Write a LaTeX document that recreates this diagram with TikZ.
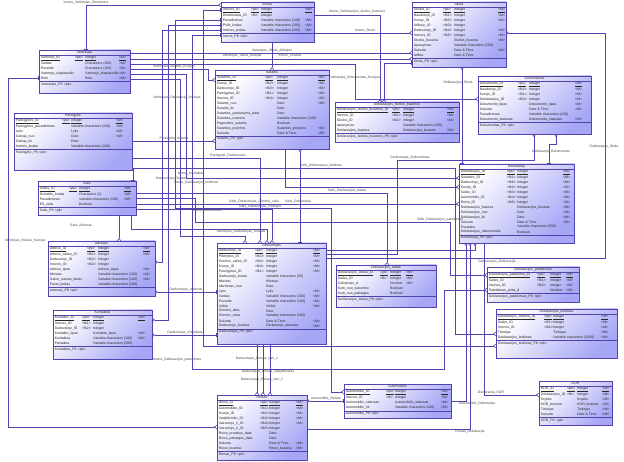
\documentclass[tikz,border=0pt]{standalone}
\usepackage{fontspec}
\setmainfont{Liberation Sans}
\usetikzlibrary{arrows.meta}
\definecolor{bc}{RGB}{84,66,176}
\definecolor{lav}{RGB}{166,166,246}
\definecolor{tc}{RGB}{40,40,40}
\newcount\nn
\newcommand\tb[9]{%
  \node[tbl,minimum width={#4pt-#2pt},minimum height={#5pt-#3pt}] (#1) at (#2,#3) {};
  \node[tt] (#1t) at ({(#2+#4)/2},{#3+2.7}) {#6};
  \draw[bd] (#2,#3+5.4) -- (#4,#3+5.4);
  \def\Xa{#2}\def\Xb{#4}\def\Kx{#7}\def\Tx{#8}\def\Mx{#9}%
  \pgfmathsetmacro\Yr{#3+8.6}}
\newcommand\rw[4]{%
  \global\advance\nn by 1
  \node[tx] (a\the\nn) at (\Xa+1.6,\Yr) {#1};
  \node[tx] (b\the\nn) at (\Kx,\Yr) {#2};
  \node[tx] (c\the\nn) at (\Tx,\Yr) {#3};
  \node[tx] (d\the\nn) at (\Mx,\Yr) {#4};
  \pgfmathsetmacro\Yr{\Yr+4.95}}
\newcommand\rwk[4]{\rw{\underline{#1}}{\underline{#2}}{\underline{#3}}{\underline{#4}}}
\newcommand\pkr[1]{%
  \draw[bd] (\Xa,\Yr-1.6) -- (\Xb,\Yr-1.6);
  \global\advance\nn by 1
  \node[tx] (p\the\nn) at (\Xa+1.6,\Yr+1.0) {#1};}
\newcommand\bx[3]{([xshift=#2pt,yshift=-#3pt]#1.north west)}
\catcode`\_=12
\begin{document}
\begin{tikzpicture}[x=1pt,y=-1pt,
  tbl/.style={draw=bc,line width=0.7pt,top color=white,bottom color=lav,shading angle=45,anchor=north west,inner sep=0pt,outer sep=0pt},
  bd/.style={draw=bc,line width=0.6pt},
  tx/.style={anchor=west,inner sep=0pt,font=\fontsize{3.5}{4}\selectfont,text=tc},
  tt/.style={inner sep=0pt,font=\fontsize{3.5}{4}\selectfont,text=tc},
  lb/.style={inner sep=0pt,font=\fontsize{3.4}{4}\selectfont,text=tc!85},
  rel/.style={draw=bc,line width=0.6pt},
  cf/.style={{Bar[width=3.4pt]}-{Straight Barb[reversed,length=2.2pt,width=3.6pt]}}]
\useasboundingbox[fill=white] (0,0) rectangle (624,462);

% ---------------- tables ----------------
\tb{vart}{39}{50}{130}{93}{Vartotojas}{75}{85}{119}
\rwk{Vartotojo_ID}{<pk>}{Integer}{<M>}
\rw{Vardas}{}{Characters (100)}{<M>}
\rw{Pavarde}{}{Characters (100)}{<M>}
\rw{Vartotojo_slaptazodis}{}{Vartotojo_slaptazodis}{<M>}
\rw{Role}{}{Role}{<M>}
\pkr{Vartotojas_PK  <pk>}

\tb{par}{14}{113}{132}{170}{Pareigybe}{62}{71}{116}
\rwk{Pareigybes_ID}{<pk>}{Integer}{<M>}
\rw{Pareigybes_pavadinimas}{}{Variable characters (100)}{<M>}
\rw{Lytis}{}{Lytis}{<M>}
\rw{Galioja_nuo}{}{Date}{<M>}
\rw{Galioja_iki}{}{Date}{}
\rw{Isorinis_kodas}{}{Variable characters (100)}{}
\pkr{Pareigybe_PK  <pk>}

\tb{imo}{221}{2}{314}{42}{Imone}{251}{261}{305}
\rwk{Imones_ID}{<pk>}{Integer}{<M>}
\rw{Direktoriaus_ID}{<fk>}{Integer}{}
\rw{Pavadinimas}{}{Variable characters (100)}{<M>}
\rw{PVM_kodas}{}{Variable characters (100)}{<M>}
\rw{Imones_kodas}{}{Variable characters (100)}{<M>}
\pkr{Imone_PK  <pk>}

\tb{sko}{412}{2}{506}{67}{Skola}{443}{454}{498}
\rwk{Skolos_ID}{<pk>}{Integer}{<M>}
\rw{Naudotojo_ID}{<fk1>}{Integer}{<M>}
\rw{Kurejo_ID}{<fk2>}{Integer}{<M>}
\rw{Atlikejo_ID}{<fk3>}{Integer}{}
\rw{Darbuotojo_ID}{<fk4>}{Integer}{<M>}
\rw{Imones_ID}{<fk5>}{Integer}{<M>}
\rw{Skolos_busena}{}{Skolos_busena}{<M>}
\rw{Aprasymas}{}{Variable characters (100)}{}
\rw{Sukurta}{}{Date \& Time}{<M>}
\rw{Atlikta}{}{Date \& Time}{}
\pkr{Skola_PK  <pk>}

\tb{dok}{478}{76}{591}{134}{Dokumentas}{518}{529}{575}
\rwk{Dokumento_ID}{<pk>}{Integer}{<M>}
\rw{Naudotojo_ID}{<fk2>}{Integer}{<M>}
\rw{Kurejo_ID}{<fk1>}{Integer}{<M>}
\rw{Deklaracijos_ID}{<fk3>}{Integer}{<M>}
\rw{Dokumento_tipas}{}{Dokumento_tipas}{<M>}
\rw{Sukurta}{}{Date \& Time}{<M>}
\rw{Pavadinimas}{}{Variable characters (100)}{}
\rw{Dokumento_statusas}{}{Dokumento_statusas}{<M>}
\pkr{Dokumentas_PK  <pk>}

\tb{sut}{215}{70}{329}{149}{Sutartis}{265}{277}{318}
\rwk{Sutarties_ID}{<pk>}{Integer}{<M>}
\rw{Kurejo_ID}{<fk2>}{Integer}{<M>}
\rw{Darbuotojo_ID}{<fk3>}{Integer}{<M>}
\rw{Pareigybes_ID}{<fk1>}{Integer}{<M>}
\rw{Imones_ID}{<fk4>}{Integer}{<M>}
\rw{Sutartis_nuo}{}{Date}{<M>}
\rw{Sutartis_iki}{}{Date}{}
\rw{Sutarties_pasirasymo_data}{}{Date}{}
\rw{Sutarties_numeris}{}{Variable characters (100)}{}
\rw{Pagrindine_sutartis}{}{Boolean}{}
\rw{Sutarties_pozymis}{}{Sutarties_pozymis}{<M>}
\rw{Sukurta}{}{Date \& Time}{<M>}
\pkr{Sutartis_PK  <pk>}

\tb{dsb}{335}{102}{459}{142}{Deklaracijos_skolos_busenos}{392}{403}{447}
\rwk{Deklaracijos_skolos_busenos_ID}{<pk>}{Integer}{<M>}
\rw{Imones_ID}{<fk1>}{Integer}{<M>}
\rw{Skolos_ID}{<fk2>}{Integer}{<M>}
\rw{Aprasymas}{}{Variable characters (100)}{}
\rw{Deklaracijos_busena}{}{Deklaracijos_busena}{<M>}
\pkr{Deklaracijos_skolos_busenos_PK  <pk>}

\tb{sal}{38}{181}{136}{215}{Salis}{69}{79}{124}
\rwk{Salies_ID}{<pk>}{Integer}{<M>}
\rw{Dviraidis_kodas}{}{Characters (2)}{<M>}
\rw{Pavadinimas}{}{Variable characters (100)}{<M>}
\rw{ES_salis}{}{Boolean}{}
\pkr{Salis_PK  <pk>}

\tb{adr}{48}{241}{155}{296}{Adresas}{87}{98}{143}
\rwk{Adreso_ID}{<pk>}{Integer}{<M>}
\rw{Adreso_salies_ID}{<fk1>}{Integer}{<M>}
\rw{Darbuotojo_ID}{<fk2>}{Integer}{}
\rw{Imones_ID}{<fk3>}{Integer}{}
\rw{Adreso_tipas}{}{Adreso_tipas}{<M>}
\rw{Miestas}{}{Variable characters (100)}{<M>}
\rw{Gatve_namas_butas}{}{Variable characters (100)}{<M>}
\rw{Pasto_kodas}{}{Variable characters (100)}{}
\pkr{Adresas_PK  <pk>}

\tb{kon}{53}{310}{152}{359}{Kontaktas}{82}{93}{138}
\rwk{Kontakto_ID}{<pk>}{Integer}{<M>}
\rw{Imones_ID}{<fk1>}{Integer}{}
\rw{Darbuotojo_ID}{<fk2>}{Integer}{}
\rw{Kontakto_tipas}{}{Kontakto_tipas}{<M>}
\rw{Kontaktas}{}{Variable characters (100)}{<M>}
\rw{Pastabos}{}{Variable characters (500)}{}
\pkr{Kontaktas_PK  <pk>}

\tb{dar}{217}{243}{326}{344}{Darbuotojas}{255}{266}{313}
\rwk{Darbuotojo_ID}{<pk>}{Integer}{<M>}
\rw{Pilietybes_ID}{<fk3>}{Integer}{<M>}
\rw{Gimimo_salies_ID}{<fk2>}{Integer}{<M>}
\rw{Kurejo_ID}{<fk4>}{Integer}{<M>}
\rw{Pareigybes_ID}{<fk1>}{Integer}{<M>}
\rw{Darbuotojo_kodas}{}{Variable characters (20)}{}
\rw{Miestas}{}{Miestas}{}
\rw{Idarbintas_nuo}{}{Date}{}
\rw{Lytis}{}{Lytis}{<M>}
\rw{Vardas}{}{Variable characters (100)}{<M>}
\rw{Pavarde}{}{Variable characters (100)}{<M>}
\rw{Veikla}{}{Veikla}{<M>}
\rw{Gimimo_data}{}{Date}{}
\rw{Gimimo_vieta}{}{Variable characters (100)}{}
\rw{Sukurta}{}{Date \& Time}{<M>}
\rw{Darbuotojo_busena}{}{Darbuotojo_statusas}{<M>}
\pkr{Darbuotojas_PK  <pk>}

\tb{dek}{459}{164}{574}{243}{Deklaracija}{507}{517}{563}
\rwk{Deklaracijos_ID}{<pk>}{Integer}{<M>}
\rw{Sutarties_ID}{<fk1>}{Integer}{<M>}
\rw{Darbuotojo_ID}{<fk6>}{Integer}{<M>}
\rw{Kurejo_ID}{<fk2>}{Integer}{<M>}
\rw{Salies_ID}{<fk3>}{Integer}{<M>}
\rw{Automobilio_ID}{<fk4>}{Integer}{<M>}
\rw{Reiso_ID}{<fk5>}{Integer}{<M>}
\rw{Deklaracijos_busena}{}{Deklaracijos_busena}{<M>}
\rw{Deklaracijos_nuo}{}{Date}{<M>}
\rw{Deklaracijos_iki}{}{Date}{<M>}
\rw{Sukurta}{}{Date \& Time}{<M>}
\rw{Pastabos}{}{Variable characters (500)}{}
\rw{Deklaracijos_dokumentas}{}{Boolean}{}
\pkr{Deklaracija_PK  <pk>}

\tb{dla}{336}{265}{436}{307}{Deklaracijos_laikas}{380}{390}{406}
\rwk{Deklaracijos_laikas_ID}{<pk>}{Integer}{<M>}
\rw{Salies_ID}{<fk>}{Integer}{<M>}
\rw{Galiojimas_d}{}{Number}{<M>}
\rw{Kurti_nuo_sukurimo}{}{Boolean}{}
\rw{Kurti_nuo_pabaigos}{}{Boolean}{}
\pkr{Deklaracijos_laikas_PK  <pk>}

\tb{dpa}{487}{267}{579}{302}{Deklaracijos_pateikimas}{537}{550}{566}
\rwk{Deklaracijos_pateikimo_ID}{<pk>}{Integer}{<M>}
\rw{Salies_ID}{<fk1>}{Integer}{<M>}
\rw{Imones_ID}{<fk2>}{Integer}{<M>}
\rw{Pateikimas_pries_d}{}{Number}{<M>}
\pkr{Deklaracijos_pateikimas_PK  <pk>}

\tb{dle}{496}{309}{617}{358}{Deklaracijos_leidimas}{544}{553}{601}
\rwk{Deklaracijos_leidimo_ID}{<pk>}{Integer}{<M>}
\rw{Salies_ID}{<fk1>}{Integer}{<M>}
\rw{Imones_ID}{<fk2>}{Integer}{<M>}
\rw{Tiekejas}{}{Tiekejas}{<M>}
\rw{Deklaracijos_leidimas}{}{Variable characters (1000)}{<M>}
\pkr{Deklaracijos_leidimas_PK  <pk>}

\tb{kor}{539}{381}{612}{425}{KOR}{567}{577}{602}
\rwk{KOR_ID}{<pk>}{Integer}{<M>}
\rw{Deklaracijos_ID}{<fk>}{Integer}{<M>}
\rw{Kryptis}{}{Kryptis}{<M>}
\rw{KOR_busena}{}{KOR_busena}{<M>}
\rw{Tiekejas}{}{Tiekejas}{<M>}
\rw{Sukurta}{}{Date \& Time}{<M>}
\pkr{KOR_PK  <pk>}

\tb{rei}{217}{395}{307}{460}{Reisas}{260}{269}{296}
\rwk{Reiso_ID}{<pk>}{Integer}{<M>}
\rw{Automobilio_ID}{<fk1>}{Integer}{<M>}
\rw{Kurejo_ID}{<fk2>}{Integer}{<M>}
\rw{Vadybininko_ID}{<fk3>}{Integer}{<M>}
\rw{Vairuotojo_1_ID}{<fk4>}{Integer}{<M>}
\rw{Vairuotojo_2_ID}{<fk5>}{Integer}{}
\rw{Reiso_pradzios_data}{}{Date}{}
\rw{Reiso_pabaigos_data}{}{Date}{}
\rw{Sukurta}{}{Date \& Time}{<M>}
\rw{Reiso_busena}{}{Reiso_busena}{<M>}
\pkr{Reisas_PK  <pk>}

\tb{aut}{344}{384}{451}{418}{Automobilis}{386}{395}{441}
\rwk{Automobilio_ID}{<pk>}{Integer}{<M>}
\rw{Imones_ID}{<fk>}{Integer}{<M>}
\rw{Automobilio_statusas}{}{Automobilio_statusas}{<M>}
\rw{Automobilio_Nr}{}{Variable characters (100)}{<M>}
\pkr{Automobilis_PK  <pk>}

% ---------------- connectors ----------------
\draw[rel,cf] \bx{vart}{47}{0} |- \bx{imo}{0}{3};
\draw[rel,cf] \bx{imo}{93}{13} -| \bx{dsb}{45}{0};
\draw[rel,cf] \bx{imo}{93}{31} -- \bx{sko}{0}{31};
\draw[rel,cf] \bx{vart}{91}{3} -- \bx{sko}{0}{51};
\draw[rel,cf] \bx{vart}{91}{9} -- \bx{sko}{0}{57};
\draw[rel,cf] \bx{imo}{51}{40} -- \bx{sut}{57}{0};
\draw[rel,cf] \bx{vart}{91}{14} -- ++(225,0) |- \bx{dok}{0}{23};
\draw[rel,cf] \bx{vart}{91}{19} -- ++(78,0) |- \bx{sut}{0}{10};
\draw[rel,cf] \bx{sko}{0}{61} -| \bx{dsb}{49}{0};
\draw[rel,cf] \bx{dek}{3}{0} -- \bx{sko}{50}{65};
\draw[rel,cf] \bx{dar}{109}{15} -- ++(279,0) |- \bx{sko}{94}{31};
\draw[rel,cf] \bx{dek}{90}{0} -- ++(0,-20) -| \bx{dok}{78}{58};
\draw[rel,cf] \bx{dar}{109}{11} -- ++(71,0) -- ++(0,-94) -| \bx{dok}{56}{58};
\draw[rel,cf] \bx{par}{118}{28} -- \bx{sut}{0}{71};
\draw[rel,cf] \bx{par}{118}{45} -| \bx{dar}{43}{0};
\draw[rel,cf] \bx{vart}{91}{24} -- ++(56,0) |- \bx{dek}{0}{14};
\draw[rel,cf] \bx{vart}{91}{29} -- ++(50,0) -- ++(0,157) -| \bx{dar}{28}{0};
\draw[rel,cf] \bx{vart}{0}{28} -- ++(-31,0) |- \bx{rei}{0}{32};
\draw[rel,cf] \bx{sal}{81}{34} -- \bx{adr}{71}{0};
\draw[rel,cf] \bx{sal}{98}{28} -| \bx{dar}{55}{0};
\draw[rel,cf] \bx{sal}{93}{34} -- ++(0,14) -| \bx{dar}{50}{0};
\draw[rel,cf] \bx{sal}{98}{23} -- \bx{dek}{0}{40};
\draw[rel,cf] \bx{sal}{98}{12} -| \bx{dla}{51}{0};
\draw[rel,cf] \bx{sal}{98}{17} -- ++(59,0) -- ++(0,24) -- ++(255,0) |- \bx{dpa}{0}{8};
\draw[rel,cf] \bx{sal}{95}{0} -- ++(0,-13) -- ++(322,0) |- \bx{dle}{0}{25};
\draw[rel,cf] \bx{imo}{0}{28} -- ++(-59,0) |- \bx{adr}{107}{21};
\draw[rel,cf] \bx{imo}{0}{23} -- ++(-53,0) |- \bx{kon}{99}{10};
\draw[rel,cf] \bx{imo}{0}{18} -- ++(-46,0) -- ++(0,188) -- ++(156,0) |- \bx{aut}{0}{8};
\draw[rel,cf] \bx{imo}{0}{33} -- ++(-29,0) -- ++(0,334) -- ++(252,0) |- \bx{dpa}{0}{23};
\draw[rel,cf] \bx{imo}{0}{8} -- ++(-18,0) |- \bx{dle}{0}{37};
\draw[rel,cf] \bx{dar}{0}{49} -- \bx{adr}{107}{51};
\draw[rel,cf] \bx{dar}{0}{92} -- \bx{kon}{99}{25};
\draw[rel,cf] \bx{aut}{107}{17} -| \bx{dek}{7}{79};
\draw[rel,cf] \bx{dek}{25}{79} |- \bx{kor}{0}{14};
\draw[rel,cf] \bx{rei}{90}{34} -| \bx{dek}{11}{79};
\draw[rel,cf] \bx{aut}{0}{17} -- \bx{rei}{90}{6};
\draw[rel,cf] \bx{dar}{40}{101} -- \bx{rei}{40}{0};
\draw[rel,cf] \bx{dar}{46}{101} -- \bx{rei}{46}{0};
\draw[rel,cf] \bx{dar}{53}{101} -- \bx{rei}{53}{0};
\draw[rel,cf] \bx{dar}{109}{7} -| \bx{dek}{16}{79};
\draw[rel,cf] \bx{sut}{70}{79} |- \bx{dek}{0}{23};
\draw[rel,cf] \bx{dar}{83}{0} -- \bx{sut}{85}{79};

% ---------------- labels ----------------
\node[lb] (l1) at (86,2.3) {Imone_Vartotojas_Direktorius};
\node[lb] (l2) at (357,12) {Imone_Deklaracijos_skolos_busenos};
\node[lb] (l3) at (365,30.5) {Imone_Skola};
\node[lb] (l4) at (272,50.3) {Vartotojas_Skola_Atlikejas};
\node[lb] (l5) at (242,56) {Vartotojas_Skola_Kurejas};
\node[lb] (l6) at (290,56) {Imone_Sutartis};
\node[lb] (l7) at (174,66.5) {Vartotojas_Sutartis_Kurejas};
\node[lb] (l8) at (355,78) {Vartotojas_Dokumentas_Kurejas};
\node[lb] (l9) at (458,83) {Deklaracijos_Skola};
\node[lb] (l10) at (177,97.5) {Vartotojas_Deklaracija_Kurejas};
\node[lb] (l11) at (174,138.5) {Pareigybe_Sutartis};
\node[lb] (l12) at (228,155.5) {Pareigybe_Darbuotojas};
\node[lb] (l13) at (410,157.5) {Darbuotojas_Dokumentas};
\node[lb] (l14) at (551,152) {Deklaracija_Dokumentas};
\node[lb] (l15) at (604,147) {Darbuotojas_Skola};
\node[lb] (l16) at (321,165.5) {Salis_Deklaracijos_leidimas};
\node[lb] (l17) at (191,174) {Imone_Kontaktas};
\node[lb] (l18) at (172,179) {Darbuotojas_Sutartis};
\node[lb] (l19) at (196,182.5) {Imone_Deklaracijos_leidimas};
\node[lb] (l20) at (347,190.5) {Salis_Deklaracijos_laikas};
\node[lb] (l21) at (254,201.5) {Salis_Darbuotojas_Gimimo_salis};
\node[lb] (l22) at (298,201.5) {Salis_Deklaracija};
\node[lb] (l23) at (260,206.5) {Salis_Darbuotojas_Pilietybe};
\node[lb] (l24) at (207,210.5) {Imone_Automobilis};
\node[lb] (l25) at (440,219.5) {Salis_Deklaracijos_pateikimas};
\node[lb] (l26) at (241,232) {Vartotojas_Darbuotojas_Kurejas};
\node[lb] (l27) at (81,226) {Salis_Adresas};
\node[lb] (l28) at (186,289.5) {Darbuotojas_Adresas};
\node[lb] (l29) at (185,332.5) {Darbuotojas_Kontaktas};
\node[lb] (l30) at (177,360) {Imone_Deklaracijos_pateikimas};
\node[lb] (l31) at (257,359) {Darbuotojas_Reisas_Vair_2};
\node[lb] (l32) at (268,372) {Darbuotojas_Reisas_Vadybininkas};
\node[lb] (l33) at (262,380) {Darbuotojas_Reisas_Vair_1};
\node[lb] (l34) at (326,398.5) {Automobilis_Reisas};
\node[lb] (l35) at (477,404) {Automobilis_Deklaracija};
\node[lb] (l36) at (470,431.5) {Reisas_Deklaracija};
\node[lb] (l37) at (491,392.5) {Deklaracija_KOR};
\node[lb] (l38) at (497,261.5) {Darbuotojas_Deklaracija};
\node[lb] (l39) at (25,241) {Vartotojas_Reisas_Kurejas};
\end{tikzpicture}
\end{document}
